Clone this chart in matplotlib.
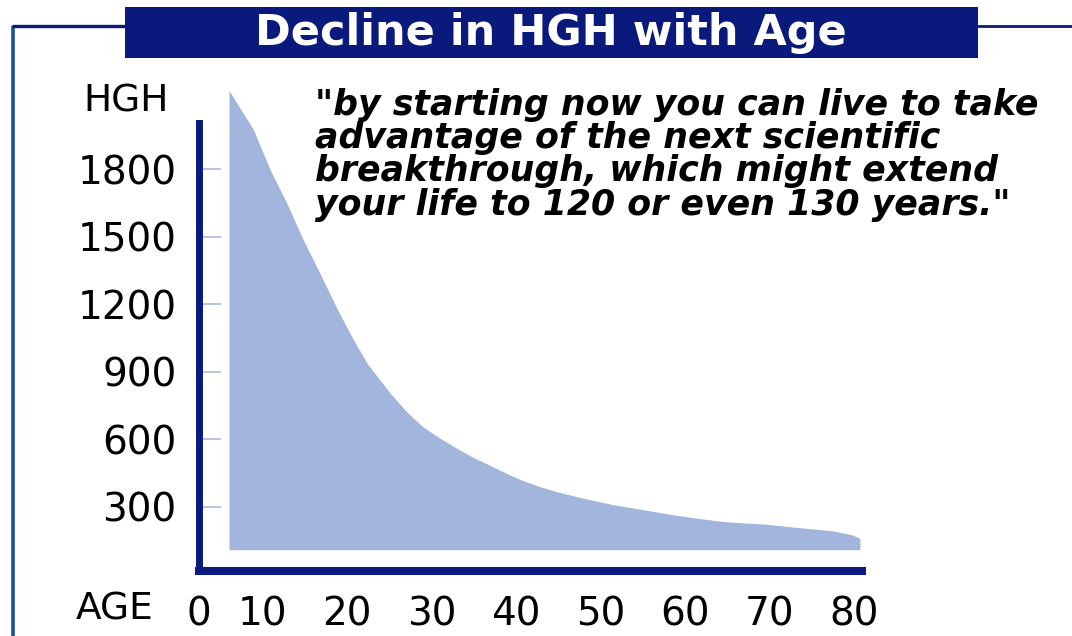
import matplotlib
matplotlib.use('Agg')
import matplotlib.pyplot as plt
from matplotlib.lines import Line2D
from matplotlib.patches import Rectangle

# ---- data ----
age = [6.0, 8.9, 10.9, 12.9, 14.8, 16.8, 18.8, 20.7, 22.4, 25.1, 27.1, 29.0,
       31.0, 33.0, 34.9, 36.9, 38.9, 40.8, 42.8, 44.9, 46.7, 48.4, 51.5, 55.5,
       58.6, 61.4, 64.5, 69.7, 74.0, 77.5, 79.8, 80.7]
hgh = [2150, 1975, 1795, 1645, 1485, 1335, 1180, 1045, 935, 805, 720, 655,
       605, 560, 520, 485, 448, 417, 390, 367, 350, 335, 310, 285,
       265, 250, 235, 223, 206, 194, 176, 160]
fill_floor = 110

y_ticks = [300, 600, 900, 1200, 1500, 1800]
x_tick_pos = [2.45, 10, 20, 30, 40, 50, 60, 70, 80]
x_tick_labels = ['0', '10', '20', '30', '40', '50', '60', '70', '80']
x_marks = [10, 20, 30, 40, 50, 60, 70, 80]

title = "Decline in HGH with Age"
quote = ('"by starting now you can live to take\n'
         'advantage of the next scientific\n'
         'breakthrough, which might extend\n'
         'your life to 120 or even 130 years."')

W, H = 1072, 636
NAVY = '#0a1a7c'
FILL = '#a2b5dd'
TICKC = '#b4c4e6'

fig = plt.figure(figsize=(W / 100, H / 100), dpi=100)
fig.patch.set_facecolor('white')

# outer frame lines
frame_c = '#1f4f9a'
fig.add_artist(Line2D([12.5 / W, 12.5 / W], [0, 1 - 25.5 / H], transform=fig.transFigure,
                      color=frame_c, lw=2.6, solid_capstyle='butt'))
fig.add_artist(Line2D([11.5 / W, 126 / W], [1 - 25.5 / H, 1 - 25.5 / H], transform=fig.transFigure,
                      color=NAVY, lw=2.4, solid_capstyle='butt'))
fig.add_artist(Line2D([977 / W, 1.0], [1 - 25.5 / H, 1 - 25.5 / H], transform=fig.transFigure,
                      color=NAVY, lw=2.0, solid_capstyle='butt'))

# title bar
fig.add_artist(Rectangle((125 / W, 1 - 58 / H), (978 - 125) / W, 51 / H,
                         transform=fig.transFigure, facecolor=NAVY, edgecolor='none'))
fig.text(551 / W, 1 - 33 / H, title, color='white', fontsize=31, fontweight='bold',
         ha='center', va='center', family='DejaVu Sans')

# main axes: left spine at px 199, right at 862, bottom spine at px 571, top at px 80
ax = fig.add_axes([199 / W, 1 - 571 / H, (862 - 199) / W, (571 - 80) / H])
ax.set_xlim(2.49, 80.95)
ax.set_ylim(15.5, 2196)
ax.set_facecolor('none')

ax.fill_between(age, hgh, fill_floor, color=FILL, linewidth=0, zorder=1)

for s in ['top', 'right']:
    ax.spines[s].set_visible(False)
ax.spines['left'].set_color(NAVY)
ax.spines['left'].set_linewidth(5.0)
ax.spines['left'].set_bounds(15.5, 2005)
ax.spines['bottom'].set_color(NAVY)
ax.spines['bottom'].set_linewidth(5.8)
ax.spines['left'].set_zorder(3)
ax.spines['bottom'].set_zorder(3)

ax.set_yticks(y_ticks)
ax.set_yticklabels([str(v) for v in y_ticks])
ax.tick_params(axis='y', direction='in', length=16, width=1.4, color=TICKC,
               pad=16, labelsize=28, labelcolor='black')

ax.set_xticks(x_tick_pos)
ax.set_xticklabels(x_tick_labels)
ax.set_xticks(x_marks, minor=True)
ax.tick_params(axis='x', which='major', length=0, pad=18, labelsize=28, labelcolor='black')
ax.tick_params(axis='x', which='minor', direction='in', length=12, width=1.4, color=TICKC)

# axis captions
fig.text(126 / W, 1 - 101 / H, 'HGH', fontsize=27, ha='center', va='center', color='black')
fig.text(115 / W, 1 - 610 / H, 'AGE', fontsize=27, ha='center', va='center', color='black')

# quote
fig.text(315 / W, 1 - 88 / H, quote, fontsize=25, fontweight='bold', fontstyle='oblique',
         ha='left', va='top', linespacing=0.97, color='black', family='DejaVu Sans')

fig.savefig('out.png', dpi=100, facecolor='white')
